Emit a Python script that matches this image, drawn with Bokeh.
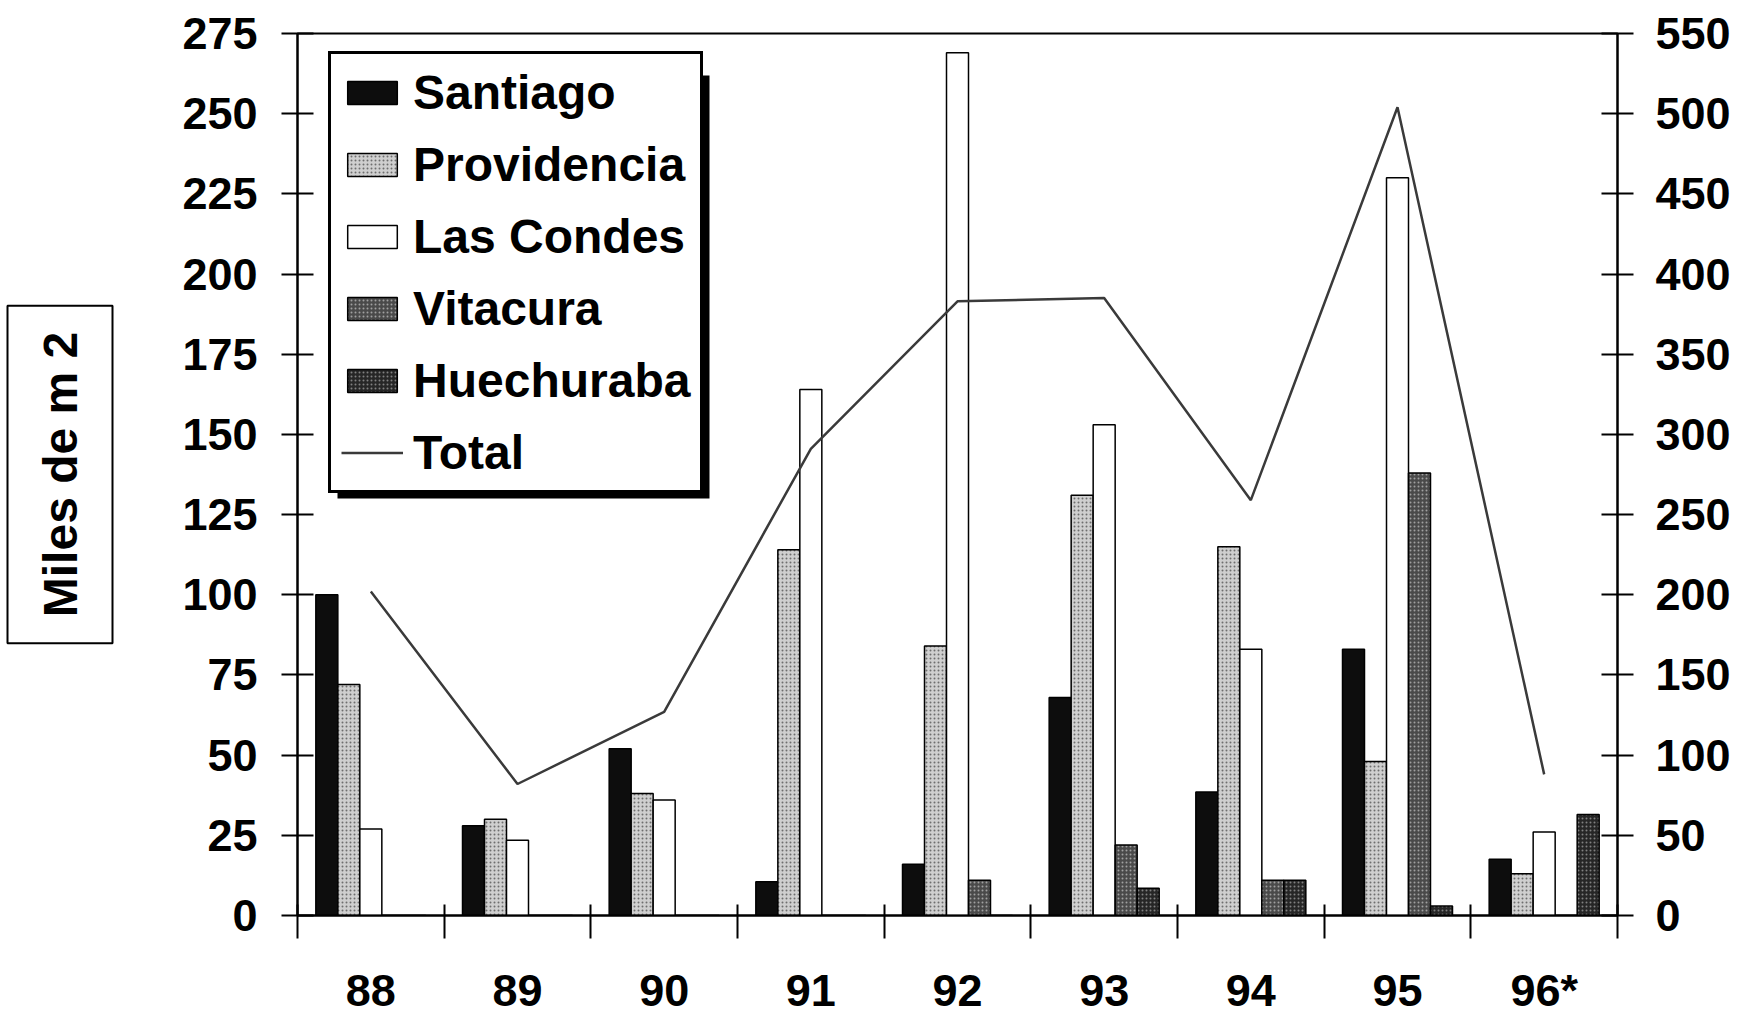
from bokeh.plotting import figure
from bokeh.models import (Range1d, LinearAxis, SingleIntervalTicker, FixedTicker,
                          Legend, LegendItem, Title, BoxAnnotation, ColumnDataSource)
from bokeh.transform import dodge
from bokeh.embed import file_html
from bokeh.resources import INLINE

years = ["88", "89", "90", "91", "92", "93", "94", "95", "96*"]
santiago = [100, 28, 52, 10.5, 16, 68, 38.5, 83, 17.5]
providencia = [72, 30, 38, 114, 84, 131, 115, 48, 13]
las_condes = [27, 23.5, 36, 164, 269, 153, 83, 230, 26]
vitacura = [0, 0, 0, 0, 11, 22, 11, 138, 0]
huechuraba = [0, 0, 0, 0, 0, 8.5, 11, 3, 31.5]
total = [202, 82, 127, 291, 383, 385, 259, 504, 88]

FONT = "Liberation Sans"
centers = [i + 0.5 for i in range(len(years))]
src = ColumnDataSource(dict(x=centers, santiago=santiago, providencia=providencia,
                            las_condes=las_condes, vitacura=vitacura,
                            huechuraba=huechuraba, total=total))

p = figure(frame_width=1320, frame_height=882, output_backend="svg",
           toolbar_location=None,
           x_range=Range1d(0, len(years)), y_range=Range1d(0, 275),
           min_border_left=297, min_border_right=10, min_border_top=33,
           min_border_bottom=10, background_fill_color="white",
           border_fill_color="white")
p.extra_y_ranges = {"right": Range1d(0, 550)}
p.xgrid.visible = False
p.ygrid.visible = False
p.outline_line_color = "black"
p.outline_line_width = 2

W = 0.15
series = [
    ("Santiago", "santiago", dict(fill_color="#0d0d0d")),
    ("Providencia", "providencia", dict(fill_color="#cfcfcf", hatch_pattern="dot",
                                         hatch_color="#6e6e6e", hatch_scale=4)),
    ("Las Condes", "las_condes", dict(fill_color="white")),
    ("Vitacura", "vitacura", dict(fill_color="#4a4a4a", hatch_pattern="dot",
                                   hatch_color="#a0a0a0", hatch_scale=4)),
    ("Huechuraba", "huechuraba", dict(fill_color="#262626", hatch_pattern="dot",
                                       hatch_color="#808080", hatch_scale=4)),
]
items = []
for k, (name, col, style) in enumerate(series):
    r = p.vbar(x=dodge("x", (k - 2) * W, range=p.x_range), top=col, width=W,
               bottom=0, source=src, line_color="black", line_width=1.5, **style)
    items.append(LegendItem(label=name, renderers=[r]))

ln = p.line(x="x", y="total", source=src, y_range_name="right",
            line_color="#3a3a3a", line_width=2.5)
items.append(LegendItem(label="Total", renderers=[ln]))

# x axis
xa = p.xaxis[0]
xa.ticker = FixedTicker(ticks=centers, minor_ticks=list(range(len(years) + 1)))
xa.major_label_overrides = {c: y for c, y in zip(centers, years)}
xa.major_tick_in = 0
xa.major_tick_out = 0
xa.minor_tick_in = 11
xa.minor_tick_out = 23
xa.minor_tick_line_width = 2
xa.minor_tick_line_color = "black"
xa.axis_line_width = 2
xa.major_label_standoff = 26
xa.major_label_text_font = FONT
xa.major_label_text_font_style = "bold"
xa.major_label_text_font_size = "45px"
xa.major_label_text_color = "black"

# left axis (a blank axis label keeps a gap before the boxed title)
ya = p.yaxis[0]
ya.ticker = SingleIntervalTicker(interval=25, num_minor_ticks=0)
ya.major_tick_in = 16
ya.major_tick_out = 16
ya.major_tick_line_width = 2
ya.axis_line_width = 2
ya.major_label_standoff = 24
ya.major_label_text_font = FONT
ya.major_label_text_font_style = "bold"
ya.major_label_text_font_size = "45px"
ya.major_label_text_color = "black"
ya.axis_label = " "
ya.axis_label_text_font_size = "10px"
ya.axis_label_standoff = 48

# right axis
ra = LinearAxis(y_range_name="right",
                ticker=SingleIntervalTicker(interval=50, num_minor_ticks=0))
ra.major_tick_in = 16
ra.major_tick_out = 16
ra.major_tick_line_width = 2
ra.axis_line_width = 2
ra.major_label_standoff = 22
ra.major_label_text_font = FONT
ra.major_label_text_font_style = "bold"
ra.major_label_text_font_size = "45px"
ra.major_label_text_color = "black"
p.add_layout(ra, "right")

# boxed axis title
t = Title(text="Miles de m 2", align="center", text_font=FONT,
          text_font_style="bold", text_font_size="48px", text_color="black",
          border_line_color="black", border_line_width=2,
          background_fill_color="white", padding=26, standoff=10)
p.add_layout(t, "left")

# drop shadow behind the legend box (screen units, relative to the frame)
shadow = BoxAnnotation(left=40, right=412, bottom=417, top=840,
                       left_units="screen", right_units="screen",
                       bottom_units="screen", top_units="screen",
                       fill_color="black", fill_alpha=1.0, line_alpha=0)
p.add_layout(shadow)

leg = Legend(items=items, location=(31, 422), orientation="vertical",
             label_text_font=FONT, label_text_font_style="bold",
             label_text_font_size="48px", label_text_color="black",
             glyph_width=62, glyph_height=29, label_height=56,
             label_standoff=10, spacing=16, padding=10,
             border_line_color="black", border_line_width=3,
             border_line_alpha=1.0,
             background_fill_color="white", background_fill_alpha=1.0,
             margin=0)
p.add_layout(leg, "center")

open("out.html", "w").write(file_html(p, INLINE))
